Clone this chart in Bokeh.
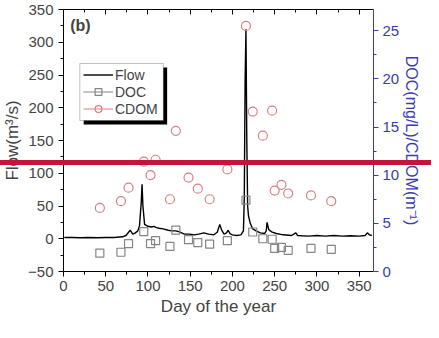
from bokeh.plotting import figure
from bokeh.models import (Range1d, LinearAxis, Legend, LegendItem,
                          BoxAnnotation, Label, FixedTicker)
from bokeh.embed import file_html
from bokeh.resources import INLINE

# ---------------- data ----------------
flow_day = [1, 10, 20, 30, 40, 50, 60, 70, 74, 77, 79, 82, 85, 88, 90, 92, 93, 94, 96,
            100, 104, 107, 110, 113, 118, 124, 128, 133, 138, 143, 149,
            155, 160, 166, 172, 178, 182, 185, 187, 190, 193, 195, 197, 200,
            205, 210, 213, 214, 215, 216, 217, 218, 219, 221, 224, 228, 233, 238,
            240, 241, 243, 247, 252, 260, 270, 275, 277, 282,
            290, 300, 310, 320, 330, 340, 350, 357, 360, 362, 365]
flow = [2, 2, 1.5, 2, 1.5, 2, 2, 3, 5, 10, 13, 7, 9, 12, 20, 55, 83, 50, 22,
        19, 18, 19, 17, 16, 15, 13, 12, 12, 10, 7, 7,
        6, 7, 9, 7, 6, 10, 22, 14, 7, 9, 13, 8, 6,
        5, 6, 12, 60, 240, 320, 150, 50, 35, 24, 15, 12, 9, 8,
        12, 25, 14, 10, 8, 6, 5, 9, 5, 4.5,
        4, 5, 4, 5, 4, 4.5, 4, 5, 9, 6, 5]

sample_day = [43, 68, 77, 95, 103, 109, 126, 133, 148, 159, 173, 194,
              216, 224, 236, 247, 250, 258, 266, 293, 317]
doc = [1.9, 2.0, 2.9, 4.15, 2.9, 3.2, 2.6, 4.3, 3.3, 3.0, 2.85, 3.2,
       7.4, 4.1, 3.4, 3.35, 2.4, 2.5, 2.2, 2.4, 2.3]
cdom = [6.6, 7.3, 8.7, 11.4, 10.0, 11.6, 7.5, 14.6, 9.75, 8.6, 7.5, 10.6,
        25.5, 16.6, 14.1, 16.7, 8.4, 9.0, 8.1, 7.9, 7.3]

x_ticks = [0, 50, 100, 150, 200, 250, 300, 350]
x_minor = [25, 75, 125, 175, 225, 275, 325]
left_ticks = [-50, 0, 50, 100, 150, 200, 250, 300, 350]
left_minor = [-25, 25, 75, 125, 175, 225, 275, 325]
right_ticks = [0, 5, 10, 15, 20, 25]
right_minor = [2.5, 7.5, 12.5, 17.5, 22.5]

red_line_level = 116.4   # horizontal red marker line (left-axis units)

FONT = "Liberation Sans"
BLUE = "#3a3ab4"
GRAY = "#858585"
PINK = "#d98080"
RED = "#c5143c"
NAN = float("nan")

# red marker line continued across the whole page width
css = """
:host { position: relative; }
:host::after {
  content: "";
  position: absolute;
  left: -8px; top: 159.5px; width: 439px; height: 5px;
  background-color: #c5143c;
  z-index: 100;
  pointer-events: none;
}
"""

p = figure(width=423, height=322, output_backend="svg", toolbar_location=None,
           x_range=Range1d(0, 367), y_range=Range1d(-50, 350),
           min_border_left=57, min_border_right=43, min_border_top=9,
           min_border_bottom=51, stylesheets=[css])
p.extra_y_ranges = {"right": Range1d(0, 27.2)}
p.xgrid.visible = False
p.ygrid.visible = False
p.outline_line_color = None
p.background_fill_color = "white"
p.border_fill_color = "white"

# bottom axis
xa = p.xaxis[0]
xa.ticker = FixedTicker(ticks=x_ticks, minor_ticks=x_minor)
xa.axis_label = "Day of the year"
xa.axis_label_text_font = FONT
xa.axis_label_text_font_size = "17px"
xa.axis_label_text_font_style = "normal"
xa.axis_label_standoff = 3
xa.major_label_text_font = FONT
xa.major_label_text_font_size = "15px"
xa.major_label_standoff = 4
xa.major_tick_out = 5
xa.major_tick_in = 0
xa.minor_tick_out = 3
xa.minor_tick_in = 0
xa.axis_line_color = "black"

# left axis
ya = p.yaxis[0]
ya.ticker = FixedTicker(ticks=left_ticks, minor_ticks=left_minor)
ya.axis_label = "Flow(m³/s)"
ya.axis_label_text_font = FONT
ya.axis_label_text_font_size = "17px"
ya.axis_label_text_font_style = "normal"
ya.axis_label_standoff = 3
ya.major_label_text_font = FONT
ya.major_label_text_font_size = "15px"
ya.major_label_standoff = 5
ya.major_tick_out = 5
ya.major_tick_in = 0
ya.minor_tick_out = 3
ya.minor_tick_in = 0

# top axis (ticks only, pointing inwards)
top = LinearAxis(ticker=FixedTicker(ticks=x_ticks, minor_ticks=x_minor),
                 major_label_text_font_size="0px", major_label_text_color=None,
                 major_label_standoff=0,
                 major_tick_in=5, major_tick_out=0, minor_tick_in=3, minor_tick_out=0)
p.add_layout(top, "above")

# right axis
ra = LinearAxis(y_range_name="right",
                ticker=FixedTicker(ticks=right_ticks, minor_ticks=right_minor),
                axis_label="DOC(mg/L)/CDOM(m⁻¹)",
                axis_label_text_font=FONT, axis_label_text_font_size="16px",
                axis_label_text_font_style="normal", axis_label_text_color=BLUE,
                axis_label_standoff=1,
                major_label_text_font=FONT, major_label_text_font_size="15px",
                major_label_text_color=BLUE, major_label_standoff=4,
                axis_line_color=BLUE, major_tick_line_color=BLUE,
                minor_tick_line_color=BLUE,
                major_tick_out=5, major_tick_in=0, minor_tick_out=3, minor_tick_in=0)
p.add_layout(ra, "right")

# data
flow_r = p.line(flow_day, flow, line_color="black", line_width=1.4)
doc_r = p.scatter(sample_day, doc, y_range_name="right", marker="square", size=8,
                  fill_color=None, line_color=GRAY, line_width=1.2)
cdom_r = p.scatter(sample_day, cdom, y_range_name="right", marker="circle", size=9,
                   fill_color=None, line_color=PINK, line_width=1.2)
# line samples shown only in the legend (no visible points in the plot)
doc_leg = p.line(x=[NAN], y=[NAN], line_color=GRAY, line_width=1)
cdom_leg = p.line(x=[NAN], y=[NAN], line_color=PINK, line_width=1)

p.add_layout(Label(x=8, y=325.6, text="(b)", text_font=FONT, text_font_style="bold",
                   text_font_size="16px", text_baseline="middle"))

# legend frame: drop shadow + white box with border (positions in axis units)
p.add_layout(BoxAnnotation(left=23.9, right=122.7, top=261.5, bottom=174.4,
                           fill_color="black", fill_alpha=1, line_color=None))
p.add_layout(BoxAnnotation(left=19.3, right=118.2, top=267.6, bottom=180.5,
                           fill_color="white", fill_alpha=1,
                           line_color="#333333", line_width=1))

legend = Legend(items=[LegendItem(label="Flow", renderers=[flow_r]),
                       LegendItem(label="DOC", renderers=[doc_leg, doc_r]),
                       LegendItem(label="CDOM", renderers=[cdom_leg, cdom_r])],
                location=(17, 151), margin=0, padding=3, spacing=0,
                label_height=17, glyph_height=17, glyph_width=30,
                label_standoff=2, label_width=49,
                label_text_font=FONT, label_text_font_size="14px",
                border_line_color="white", border_line_alpha=0,
                background_fill_alpha=0)
p.add_layout(legend)

# red marker line (inside the plot area)
p.add_layout(BoxAnnotation(top=red_line_level + 3.8, bottom=red_line_level - 3.8,
                           fill_color=RED, fill_alpha=1, line_color=None))

open("out.html", "w").write(file_html(p, INLINE))
